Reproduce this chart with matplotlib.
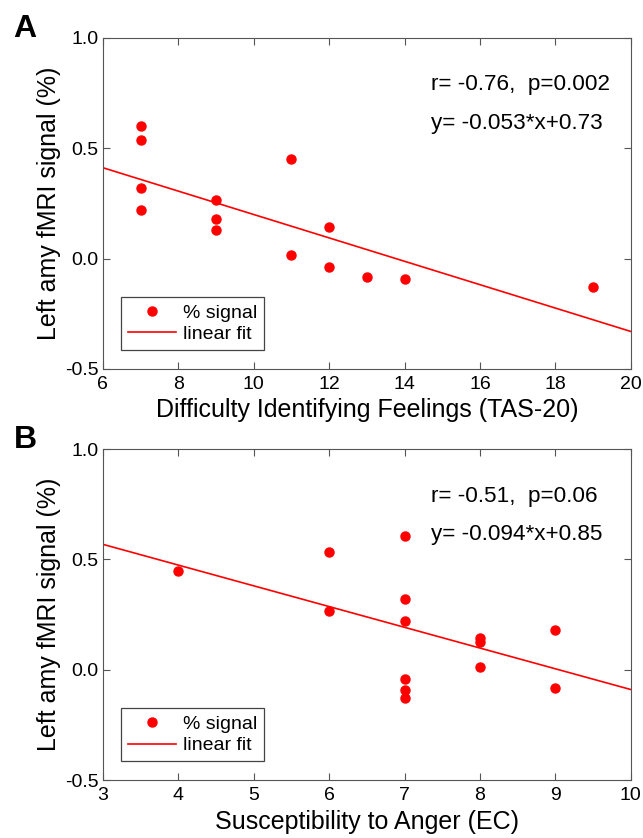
import numpy as np
import matplotlib
matplotlib.use('Agg')
import matplotlib.pyplot as plt

plt.rcParams['font.family'] = ['Liberation Sans', 'DejaVu Sans']

# panel A: TAS-20 difficulty identifying feelings vs left amygdala signal
tas = [7, 7, 7, 7, 9, 9, 9, 11, 11, 12, 12, 13, 14, 19]
sig_a = [0.603, 0.537, 0.320, 0.221, 0.265, 0.179, 0.130,
         0.452, 0.015, 0.145, -0.039, -0.083, -0.094, -0.128]
fit_a = (-0.053, 0.73)
stats_a = ['r= -0.76,  p=0.002', 'y= -0.053*x+0.73']

# panel B: susceptibility to anger (EC) vs left amygdala signal
ec = [4, 6, 6, 7, 7, 7, 7, 7, 7, 8, 8, 8, 9, 9]
sig_b = [0.449, 0.535, 0.265, 0.605, 0.320, 0.220, -0.041,
         -0.092, -0.130, 0.144, 0.126, 0.014, 0.179, -0.085]
fit_b = (-0.094, 0.85)
stats_b = ['r= -0.51,  p=0.06', 'y= -0.094*x+0.85']

fig = plt.figure(figsize=(6.43, 8.38), dpi=100)


def panel(rect, x, y, fit, stats, xlim, xticks, xlabel, letter, txt_x):
    ax = fig.add_axes(rect)
    ax.plot(x, y, 'o', color='red', markersize=6.5, label='% signal')
    xs = np.array(xlim, dtype=float)
    ax.plot(xs, fit[0] * xs + fit[1], '-', color='red', lw=1.2, label='linear fit')
    ax.set_xlim(xlim)
    ax.set_ylim(-0.5, 1.0)
    ax.set_xticks(xticks)
    ax.set_yticks([-0.5, 0.0, 0.5, 1.0])
    ax.set_yticklabels(['-0.5', '0.0', '0.5', '1.0'])
    ax.tick_params(direction='in', top=True, right=True, length=5,
                   labelsize=14, color='#555555')
    ax.tick_params(axis='x', pad=5)
    ax.tick_params(axis='y', pad=3)
    for s in ax.spines.values():
        s.set_color('#555555')
    ax.set_xlabel(xlabel, fontsize=18, labelpad=4)
    ax.set_ylabel('Left amy fMRI signal (%)', fontsize=18, labelpad=3)
    ax.text(txt_x, 0.787, stats[0], fontsize=16.2, va='center')
    ax.text(txt_x, 0.612, stats[1], fontsize=16.2, va='center')
    leg = ax.legend(loc='lower left', bbox_to_anchor=(0.034, 0.057), fontsize=14,
                    fancybox=False, framealpha=1, edgecolor='#444444',
                    borderaxespad=0, handlelength=2.5, handletextpad=0.35,
                    borderpad=0.35, labelspacing=0.2, markerfirst=True)
    leg.get_frame().set_linewidth(0.9)
    fig.text(0.021, rect[1] + rect[3] + 0.011, letter, fontsize=23,
             fontweight='bold', va='center')
    return ax


panel([0.160, 0.5597, 0.821, 0.395], tas, sig_a, fit_a, stats_a, (6, 20),
      range(6, 21, 2), 'Difficulty Identifying Feelings (TAS-20)', 'A', 14.7)
panel([0.160, 0.0692, 0.821, 0.395], ec, sig_b, fit_b, stats_b, (3, 10),
      range(3, 11), 'Susceptibility to Anger (EC)', 'B', 7.35)

fig.savefig('out.png', dpi=100)
